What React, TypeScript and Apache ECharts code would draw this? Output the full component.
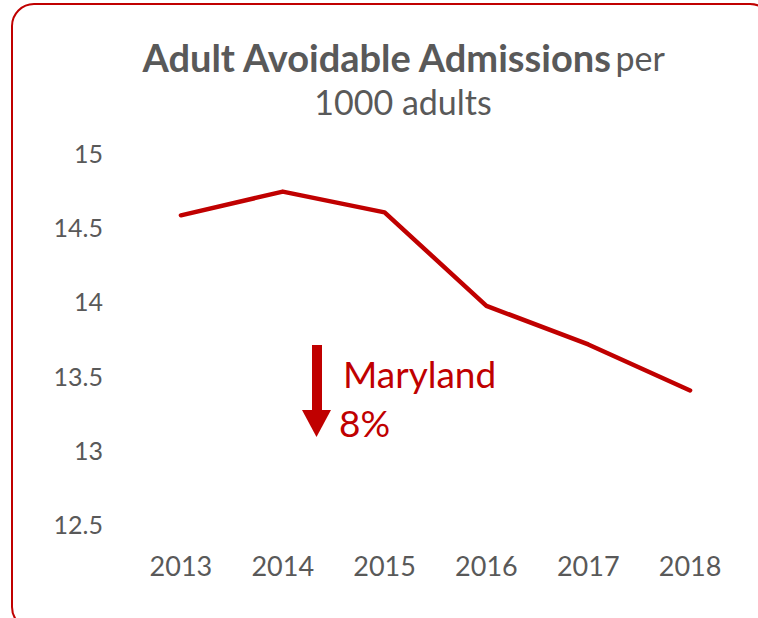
import React, { useEffect, useRef } from "react";
import * as echarts from "echarts";

const years = ["2013", "2014", "2015", "2016", "2017", "2018"];
const admissions = [14.58, 14.74, 14.6, 13.97, 13.71, 13.4];
const yMin = 12.5;
const yMax = 15;
const yStep = 0.5;

const RED = "#C00000";
const GRAY = "#595959";
const FONT = "Lato";

export default function App() {
  const ref = useRef<HTMLDivElement>(null);
  useEffect(() => {
    if (!ref.current) return;
    const chart = echarts.init(ref.current, null, { renderer: "svg" });
    chart.setOption({
      animation: false,
      backgroundColor: "#ffffff",
      grid: { left: 130, right: 17, top: 153, bottom: 94, containLabel: false },
      xAxis: {
        type: "category",
        data: years,
        boundaryGap: true,
        axisLine: { show: false },
        axisTick: { show: false },
        axisLabel: { color: GRAY, fontSize: 27, fontFamily: FONT, margin: 28 },
      },
      yAxis: {
        type: "value",
        min: yMin,
        max: yMax,
        interval: yStep,
        axisLine: { show: false },
        axisTick: { show: false },
        splitLine: { show: false },
        axisLabel: { color: GRAY, fontSize: 25, fontFamily: FONT, margin: 27 },
      },
      series: [
        {
          type: "line",
          data: admissions,
          symbol: "none",
          lineStyle: { color: RED, width: 4.5, cap: "round", join: "round" },
        },
      ],
      graphic: [
        {
          type: "rect",
          shape: { x: 12, y: 4, width: 760, height: 625, r: 22 },
          style: { fill: "none", stroke: RED, lineWidth: 2 },
          silent: true,
        },
        {
          type: "text",
          x: 403,
          y: 35,
          style: {
            text: "{b|Adult Avoidable Admissions} {n|per}\n{n|1000 adults}",
            align: "center",
            verticalAlign: "top",
            fill: GRAY,
            rich: {
              b: { fontSize: 38, fontWeight: "bold", fontFamily: FONT, fill: GRAY, lineHeight: 44 },
              n: { fontSize: 34, fontWeight: "normal", fontFamily: FONT, fill: GRAY, lineHeight: 44 },
            },
          },
        },
        {
          type: "rect",
          shape: { x: 312, y: 345, width: 10, height: 67 },
          style: { fill: RED },
        },
        {
          type: "polygon",
          shape: { points: [[302, 410], [331, 410], [316.5, 437]] },
          style: { fill: RED },
        },
        {
          type: "text",
          x: 343,
          y: 373,
          style: {
            text: "Maryland",
            fontSize: 37,
            fontFamily: FONT,
            fill: RED,
            align: "left",
            verticalAlign: "middle",
          },
        },
        {
          type: "text",
          x: 339,
          y: 422,
          style: {
            text: "8%",
            fontSize: 37,
            fontFamily: FONT,
            fill: RED,
            align: "left",
            verticalAlign: "middle",
          },
        },
      ],
    });
    return () => chart.dispose();
  }, []);
  return (
    <div
      ref={ref}
      style={{ position: "fixed", left: 0, top: 0, width: 758, height: 618 }}
    />
  );
}
